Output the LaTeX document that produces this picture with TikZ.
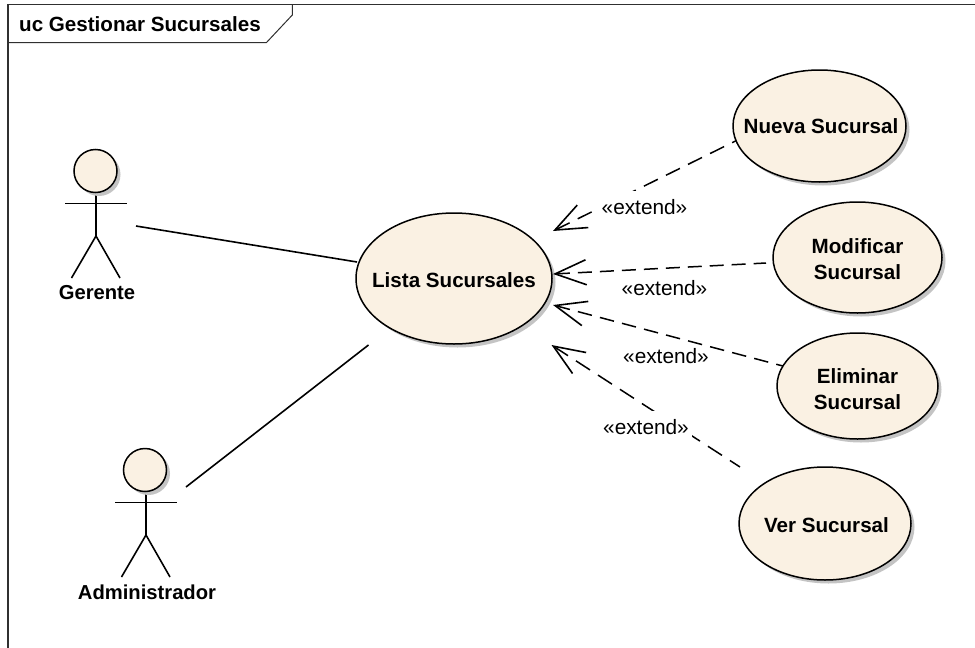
\documentclass[tikz,border=0pt]{standalone}
\usepackage{fontspec}
\setmainfont{Liberation Sans}
\usetikzlibrary{shapes.geometric,arrows.meta,shadows}
\definecolor{ucfill}{HTML}{FAF1E3}
\definecolor{ucshadow}{HTML}{C4C4C4}
\definecolor{framecol}{HTML}{303030}
\newcommand\lowertext[1]{\rule{0pt}{#1pt}}
\tikzset{
  ucbase/.style={draw=black,line width=1.5pt,fill=ucfill,inner sep=0pt,outer sep=0pt,
    drop shadow={shadow xshift=3.5pt,shadow yshift=-3.5pt,fill=ucshadow,opacity=1}},
  usecase/.style={ucbase,ellipse,inner xsep=-40pt,inner ysep=-10pt,align=center,font=\fontsize{20.6}{26}\selectfont\bfseries},
  actorhead/.style={ucbase,circle,minimum size=43pt},
  actorname/.style={inner sep=0pt,font=\fontsize{20.2}{24}\selectfont\bfseries},
  limb/.style={line width=1.6pt,line cap=butt},
  assoc/.style={line width=1.6pt},
  extendline/.style={line width=1.5pt,
    {Straight Barb[length=31pt,width=25pt,sep=0pt,line width=1.6pt]}-},
  stereo/.style={inner sep=0pt,font=\fontsize{20.8}{24}\selectfont},
  stereoclear/.style={stereo,fill=white,minimum width=91pt,minimum height=32pt},
  framepath/.style={draw=framecol,line width=1.2pt},
  actorfig/.pic={
    \coordinate (-neck) at (0,21);
    \coordinate (-hip) at (0,65);
    \draw[limb] (-neck) -- (-hip);
    \draw[limb] (-31,32.5) -- (31,32.5);
    \draw[limb] (-24.5,107) -- (-hip) -- (24,107);
  }
}
\begin{document}
\begin{tikzpicture}[x=1pt,y=-1pt]
\useasboundingbox (0,0) rectangle (975,648);
% frame
\draw[framepath] (8,648) -- (8,4.7) -- (975,4.7);
\draw[framepath,line width=1pt] (8,42.5) -- (266.5,42.5) -- (292.3,15) -- (292.3,4.7);
\node[anchor=west,inner sep=0pt,font=\fontsize{20.6}{24}\selectfont\bfseries] (title) at (19,24.5) {uc Gestionar Sucursales};

% actors
\pic (g) at (96,171) {actorfig};
\node[actorhead] (gerentehead) at (95.5,171) {};
\node[actorname] (gerente) at (97,293) {Gerente};
\pic (a) at (146,470) {actorfig};
\node[actorhead] (adminhead) at (145,470) {};
\node[actorname] (admin) at (147,592) {Administrador};

% use cases
\node[usecase,minimum width=196pt,minimum height=131pt] (lista) at (454,278.5) {\lowertext{19}Lista Sucursales};
\node[usecase,minimum width=173pt,minimum height=112pt] (nueva) at (819.5,126) {\hspace*{3pt}Nueva Sucursal};
\node[usecase,minimum width=169pt,minimum height=111pt] (modificar) at (857.5,257.5) {\lowertext{19}Modificar\\Sucursal};
\node[usecase,minimum width=161pt,minimum height=106pt] (eliminar) at (857.5,386) {\lowertext{21}Eliminar\\Sucursal};
\node[usecase,minimum width=172pt,minimum height=113pt] (ver) at (825,523.5) {\lowertext{19}\hspace*{3pt}Ver Sucursal};

% connector ends
\coordinate (gerenteend) at (136,226);
\coordinate (listag) at (357,262);
\coordinate (adminend) at (186,487);
\coordinate (listaa) at (368.5,345);
\coordinate (tipn) at (553,231);
\coordinate (tipm) at (553,274);
\coordinate (tipe) at (553,305);
\coordinate (tipv) at (551.5,345);
\coordinate (endm) at (766,263);
\coordinate (endv) at (740,467);

\draw[assoc] (gerenteend) -- (listag);
\draw[assoc] (adminend) -- (listaa);

\draw[extendline,dash pattern=on 15.6pt off 9pt] (tipn) -- (nueva.190);
\draw[extendline,dash pattern=on 14pt off 8pt] (tipm) -- (endm);
\draw[extendline,dash pattern=on 14.5pt off 8.3pt] (tipe) -- (eliminar.165);
\draw[extendline,dash pattern=on 16.7pt off 9.5pt] (tipv) -- (endv);

% labels
\node[stereoclear] (ext1) at (644.5,207.3) {«extend»};
\node[stereo] (ext2) at (664.5,288) {«extend»};
\node[stereo] (ext3) at (666,356) {«extend»};
\node[stereoclear] (ext4) at (646,427) {«extend»};
\end{tikzpicture}
\end{document}
